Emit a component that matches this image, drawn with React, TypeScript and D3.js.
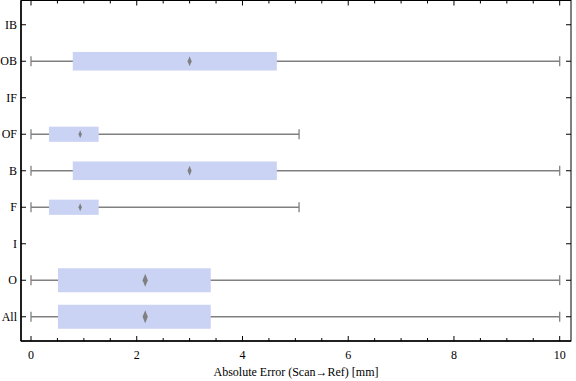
import React from "react";
import * as d3 from "d3";

const categories = ["IB", "OB", "IF", "OF", "B", "F", "I", "O", "All"];
const mins: (number | null)[] = [null, 0, null, 0, 0, 0, null, 0, 0];
const q1s: (number | null)[] = [null, 0.79, null, 0.34, 0.79, 0.34, null, 0.51, 0.51];
const medians: (number | null)[] = [null, 3.0, null, 0.93, 3.0, 0.93, null, 2.16, 2.16];
const q3s: (number | null)[] = [null, 4.65, null, 1.28, 4.65, 1.28, null, 3.4, 3.4];
const maxs: (number | null)[] = [null, 10, null, 5.07, 10, 5.07, null, 10, 10];
const sampleShare: (number | null)[] = [null, 0.6, null, 0.4, 0.6, 0.4, null, 1, 1];
const xTicks = [0, 2, 4, 6, 8, 10];
const xLabel = "Absolute Error (Scan\u2192Ref) [mm]";

const W = 576;
const H = 381;
const L = 21;
const R = 571;
const T = 0.5;
const B = 341;

export default function App() {
  const x = d3.scaleLinear().domain([0, 10]).range([31, 559.7]);
  const y = d3.scalePoint<string>().domain([...categories].reverse()).range([B, T]).padding(0.664);
  const minorTicks = d3.range(0, 10.01, 0.5).filter((v) => !xTicks.includes(v));
  const textStyle: React.CSSProperties = { fontFamily: "Liberation Serif, Times New Roman, DejaVu Serif, serif", fontSize: "12px" };
  const maxBoxH = 24;
  const gray = "#808080";

  return (
    <svg width={W} height={H} style={{ position: "absolute", left: 0, top: 0 }}>
      <rect x={0} y={0} width={W} height={H} fill="white" />
      {categories.map((c, i) => {
        if (mins[i] === null) return null;
        const cy = y(c)!;
        const bh = maxBoxH * Math.sqrt(sampleShare[i]!);
        const dh = bh * 0.27;
        const dw = Math.max(1.6, bh * 0.11);
        const mx = x(medians[i]!);
        return (
          <g key={c}>
            <line x1={x(mins[i]!)} x2={x(maxs[i]!)} y1={cy} y2={cy} stroke={gray} strokeWidth={1.3} />
            <line x1={x(mins[i]!)} x2={x(mins[i]!)} y1={cy - 5} y2={cy + 5} stroke={gray} strokeWidth={1.3} />
            <line x1={x(maxs[i]!)} x2={x(maxs[i]!)} y1={cy - 5} y2={cy + 5} stroke={gray} strokeWidth={1.3} />
            <rect x={x(q1s[i]!)} y={cy - bh / 2} width={x(q3s[i]!) - x(q1s[i]!)} height={bh} fill="#cbd3f4" />
            <path d={`M${mx},${cy - dh}L${mx + dw},${cy}L${mx},${cy + dh}L${mx - dw},${cy}Z`} fill={gray} />
          </g>
        );
      })}
      <rect x={L} y={T} width={R - L} height={B - T} fill="none" stroke="black" strokeWidth={1} />
      <line x1={L} x2={L} y1={T} y2={B} stroke="black" strokeWidth={1.5} />
      <line x1={L} x2={R} y1={B} y2={B} stroke="black" strokeWidth={1.5} />
      {xTicks.map((t) => (
        <g key={"xt" + t}>
          <line x1={x(t)} x2={x(t)} y1={B} y2={B - 5} stroke="black" />
          <line x1={x(t)} x2={x(t)} y1={T} y2={T + 5} stroke="black" />
          <text x={x(t)} y={359} textAnchor="middle" style={textStyle}>
            {t}
          </text>
        </g>
      ))}
      {minorTicks.map((t) => (
        <g key={"xm" + t}>
          <line x1={x(t)} x2={x(t)} y1={B} y2={B - 3} stroke="black" />
          <line x1={x(t)} x2={x(t)} y1={T} y2={T + 3} stroke="black" />
        </g>
      ))}
      {categories.map((c) => (
        <g key={"yt" + c}>
          <line x1={L} x2={L + 5} y1={y(c)!} y2={y(c)!} stroke="black" />
          <line x1={R} x2={R - 5} y1={y(c)!} y2={y(c)!} stroke="black" />
          <text x={17} y={y(c)! + 4} textAnchor="end" style={textStyle}>
            {c}
          </text>
        </g>
      ))}
      <text x={296} y={376} textAnchor="middle" style={textStyle}>
        {xLabel}
      </text>
    </svg>
  );
}
